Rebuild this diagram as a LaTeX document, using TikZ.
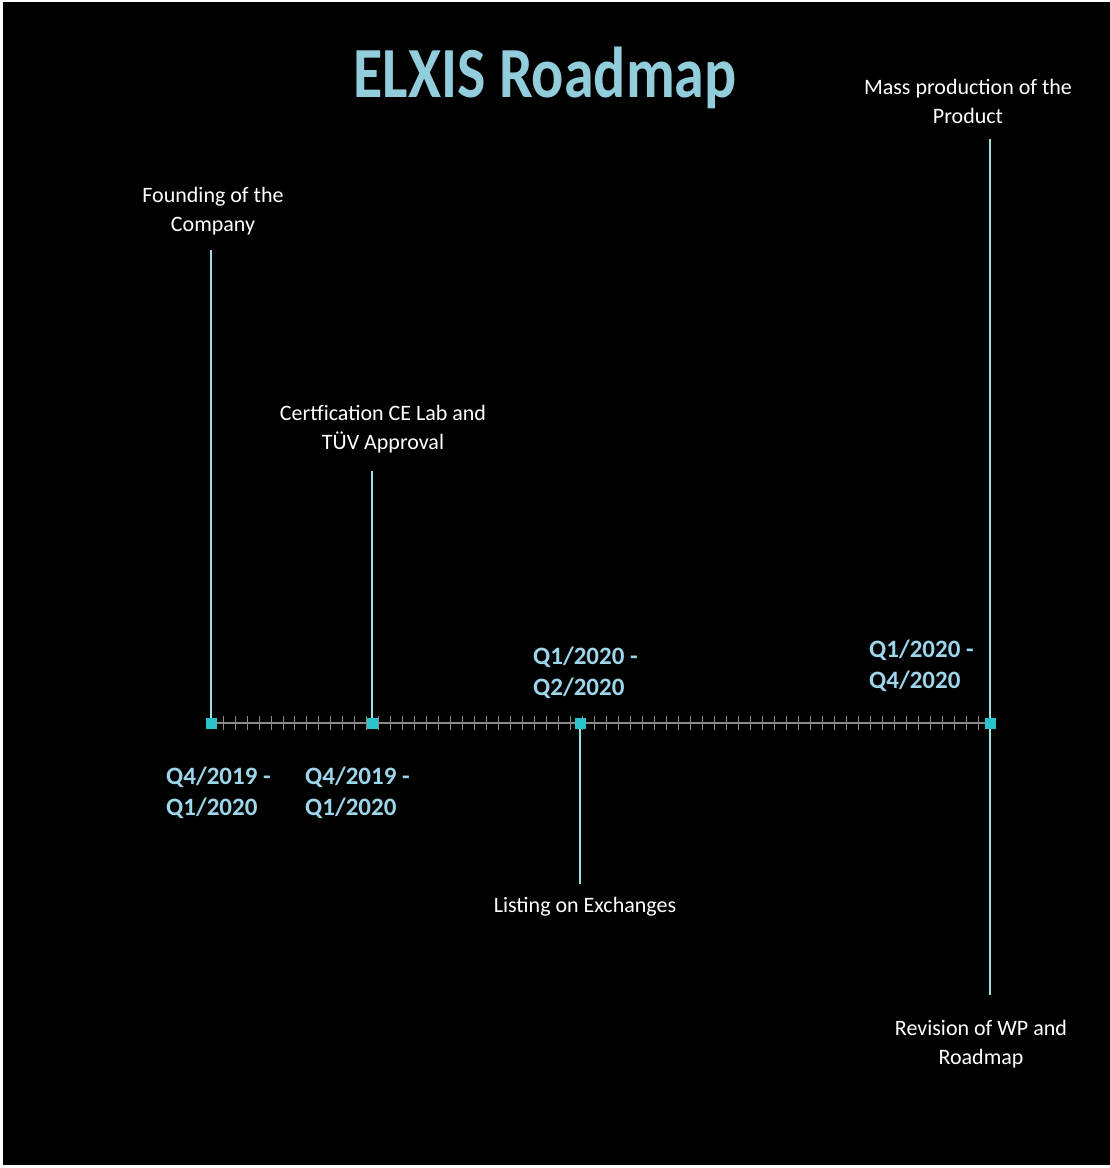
\documentclass[tikz,border=0pt]{standalone}
\usepackage{fontspec}
\setmainfont{Carlito}
\definecolor{titleblue}{HTML}{92CDDC}
\definecolor{dateblue}{HTML}{9DD5EA}
\definecolor{markcyan}{HTML}{2CC2CB}
\definecolor{stemcyan}{HTML}{9EDCE2}
\definecolor{axisgray}{HTML}{8A8A8A}
\tikzset{
  titlenode/.style = {inner sep=0pt, titleblue,
    font=\bfseries\fontsize{60}{60}\selectfont},
  event/.style = {align=center, inner sep=0pt, white,
    font=\fontsize{22}{29}\selectfont},
  datelabel/.style = {align=left, inner sep=0pt, dateblue,
    font=\bfseries\fontsize{25}{31}\selectfont},
  marker/.style = {rectangle, inner sep=0pt, minimum size=11pt,
    fill=markcyan},
  stem/.style = {draw=stemcyan, line width=1.5pt},
  tickline/.style = {draw=axisgray, line width=0.8pt}
}

\begin{document}
\begin{tikzpicture}[x=1pt, y=-1pt]
    \useasboundingbox (0,0) rectangle (1110,1168);
    \fill[white] (0,0) rectangle (1110,1168);
    \fill[black] (3,2) rectangle (1110,1165);

    \node [titlenode, anchor=base] (title) at (545,97)
        {\scalebox{1}[1.2]{ELXIS Roadmap}};

    % time axis
    \coordinate (t1) at (211,723);
    \coordinate (t2) at (372,723);
    \coordinate (t3) at (580,723);
    \coordinate (t4) at (990,723);
    \draw [axisgray, line width=1.5pt] (t1) -- (t4);
    \foreach \i in {1,...,64}{
        \pgfmathsetmacro\tx{211+\i*11.985}
        \draw [tickline] (\tx,716) -- (\tx,730);
    }

    % events (anchor = baseline of last line)
    \node [event, anchor=base] (found) at (213,231)
        {Founding of the\\Company};
    \node [event, anchor=base] (cert) at (383,449)
        {Certfication CE Lab and\\TÜV Approval};
    \node [event, anchor=base] (list) at (585,912)
        {Listing on Exchanges};
    \node [event, anchor=base] (mass) at (968,123)
        {Mass production of the\\Product};
    \node [event, anchor=base] (rev) at (981,1064)
        {Revision of WP and\\Roadmap};

    \coordinate (s1) at (211,250);
    \coordinate (s2) at (372,471);
    \coordinate (s3) at (580,884);
    \coordinate (s4) at (990,139);
    \coordinate (s5) at (990,995);

    \draw [stem] (t1) -- (s1);
    \draw [stem] (t2) -- (s2);
    \draw [stem] (t3) -- (s3);
    \draw [stem] (s4) -- (t4) -- (s5);

    \node [marker] (m1) at (t1) {};
    \node [marker] (m2) at (t2) {};
    \node [marker] (m3) at (t3) {};
    \node [marker] (m4) at (t4) {};

    % dates
    \node [datelabel, anchor=base west] (d1) at (166,815)
        {Q4/2019 -\\Q1/2020};
    \node [datelabel, anchor=base west] (d2) at (305,815)
        {Q4/2019 -\\Q1/2020};
    \node [datelabel, anchor=base west] (d3) at (533,695)
        {Q1/2020 -\\Q2/2020};
    \node [datelabel, anchor=base west] (d4) at (869,688)
        {Q1/2020 -\\Q4/2020};
\end{tikzpicture}
\end{document}
